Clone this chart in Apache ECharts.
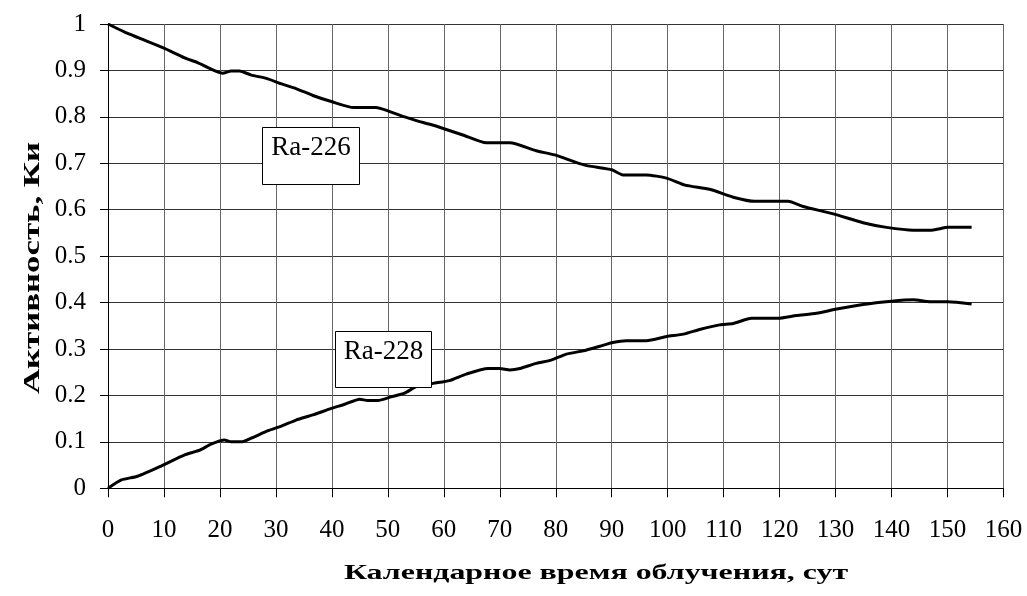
<!DOCTYPE html>
<html><head><meta charset="utf-8">
<script src="https://cdn.jsdelivr.net/npm/echarts@6/dist/echarts.min.js"></script>
<style>html,body{margin:0;padding:0;background:#fff}#c{width:1027px;height:596px}</style>
</head><body><div id="c"></div>
<script>
const xTicks = [0,10,20,30,40,50,60,70,80,90,100,110,120,130,140,150,160];
const yTicks = [0,0.1,0.2,0.3,0.4,0.5,0.6,0.7,0.8,0.9,1];
const ra226Days = [0,2.9,5.3,10,13.7,16,20.5,22,23.5,25.6,28.3,31,33.6,36.6,39.9,43.9,47.9,50,53,55.1,57.5,59.9,63.4,67.6,71.8,76.5,79.8,85.2,90,92,96.2,99.8,103.1,107.5,111.7,115.6,121.5,124.2,129.6,134.9,139.1,143.9,147.2,150.1,154.3];
const ra226Vals = [1.0,0.983,0.971,0.948,0.927,0.917,0.894,0.899,0.899,0.89,0.883,0.871,0.861,0.846,0.833,0.82,0.82,0.813,0.80,0.792,0.784,0.775,0.761,0.744,0.744,0.727,0.718,0.696,0.686,0.675,0.675,0.668,0.653,0.644,0.627,0.618,0.618,0.607,0.591,0.572,0.562,0.556,0.556,0.562,0.562];
const ra228Days = [0,2.4,5.3,9.5,13.7,16.4,18.4,20.8,22,23.8,25.6,28.6,31,33.6,36.6,39.9,42.3,45,46.4,48.2,50.6,53,55.1,58.1,61,64,67.9,70,71.8,73.6,76.5,79.2,81.9,84.9,87.9,90.2,92.6,96.2,99.8,102.8,105.7,109.3,111.7,115,119.7,123,126.6,130.2,134.9,140,143.9,146.9,150.1,154.3];
const ra228Vals = [0,0.018,0.026,0.048,0.072,0.082,0.095,0.104,0.100,0.100,0.108,0.124,0.134,0.147,0.158,0.172,0.181,0.192,0.189,0.189,0.197,0.205,0.219,0.226,0.232,0.246,0.258,0.258,0.255,0.258,0.269,0.276,0.289,0.296,0.306,0.314,0.318,0.318,0.327,0.332,0.342,0.352,0.355,0.366,0.366,0.372,0.377,0.386,0.396,0.403,0.406,0.402,0.402,0.397];
const seriesNames = ['Ra-226','Ra-228'];
const xTitle = 'Календарное время облучения, сут';
const yTitle = 'Активность, Ки';

const FONT = '"Times New Roman", "Liberation Serif", serif';
const chart = echarts.init(document.getElementById('c'), null, {renderer:'canvas'});
const pairs = (xs, ys) => xs.map((x,i)=>[x, ys[i]]);
const lineStyle = {color:'#000', width:3};
chart.setOption({
  animation:false,
  backgroundColor:'#fff',
  grid:{left:108, right:23.5, top:24, bottom:107.7, containLabel:false},
  xAxis:{type:'value', min:xTicks[0], max:xTicks[xTicks.length-1], interval:10,
    axisLine:{show:true, onZero:false, lineStyle:{color:'#000', width:1}},
    axisTick:{show:true, length:9, lineStyle:{color:'#000'}},
    axisLabel:{fontFamily:FONT, fontSize:25, color:'#000', margin:30},
    splitLine:{show:true, lineStyle:{color:'#666', width:1}}},
  yAxis:{type:'value', min:yTicks[0], max:yTicks[yTicks.length-1], interval:0.1,
    axisLine:{show:true, onZero:false, lineStyle:{color:'#000', width:1}},
    axisTick:{show:true, length:8, lineStyle:{color:'#000'}},
    axisLabel:{fontFamily:FONT, fontSize:25, color:'#000', margin:22,
      formatter:v=>String(Math.round(v*10)/10)},
    splitLine:{show:true, lineStyle:{color:'#333', width:1}}},
  series:[
    {name:seriesNames[0], type:'line', data:pairs(ra226Days, ra226Vals), showSymbol:false, smooth:0.2, lineStyle, z:3},
    {name:seriesNames[1], type:'line', data:pairs(ra228Days, ra228Vals), showSymbol:false, smooth:0.2, lineStyle, z:3}
  ],
  graphic:[
    {type:'rect', shape:{x:262.5, y:127.5, width:97, height:57}, style:{fill:'#fff', stroke:'#000', lineWidth:1}, z:10},
    {type:'text', x:311, y:148, style:{text:seriesNames[0], fontSize:27, fontFamily:FONT, fill:'#000', align:'center', verticalAlign:'middle'}, z:11},
    {type:'rect', shape:{x:335.5, y:331.5, width:96, height:56}, style:{fill:'#fff', stroke:'#000', lineWidth:1}, z:10},
    {type:'text', x:383.5, y:352, style:{text:seriesNames[1], fontSize:27, fontFamily:FONT, fill:'#000', align:'center', verticalAlign:'middle'}, z:11},
    {type:'text', x:596, y:573, scaleX:1.45, style:{text:xTitle, fontSize:22, fontWeight:'bold', fontFamily:FONT, fill:'#000', align:'center', verticalAlign:'middle'}},
    {type:'text', x:33, y:268, rotation:Math.PI/2, scaleX:1.45, style:{text:yTitle, fontSize:24, fontWeight:'bold', fontFamily:FONT, fill:'#000', align:'center', verticalAlign:'middle'}}
  ]
});
</script></body></html>
